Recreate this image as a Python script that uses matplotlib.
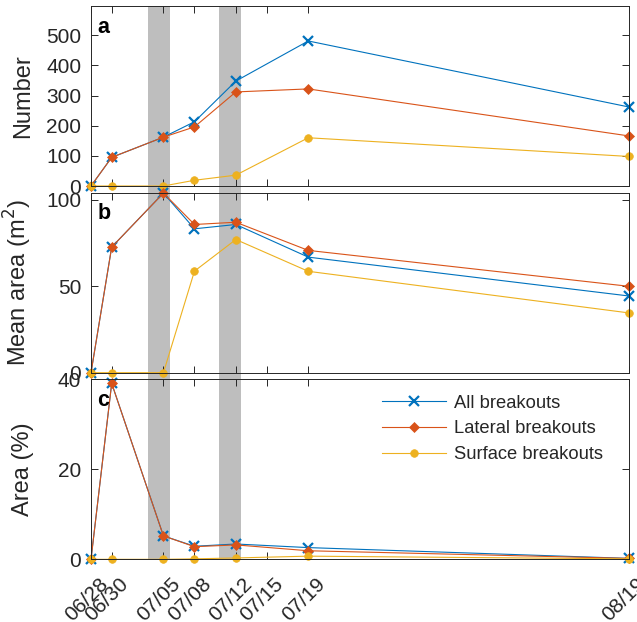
import matplotlib
matplotlib.use("Agg")
import matplotlib.pyplot as plt
import matplotlib.dates as mdates
import matplotlib.transforms as mtransforms
import pandas as pd

plt.rcParams['font.family'] = ['Liberation Sans', 'DejaVu Sans']

dates = ['2019-06-28', '2019-06-30', '2019-07-05', '2019-07-08', '2019-07-12', '2019-07-19', '2019-08-19']
tick_dates = ['2019-06-28', '2019-06-30', '2019-07-05', '2019-07-08', '2019-07-12', '2019-07-15', '2019-07-19', '2019-08-19']
bands = [('2019-07-03 13:00', '2019-07-05 15:00'), ('2019-07-10 09:30', '2019-07-12 12:00')]

number_all = [0, 95, 162, 213, 348, 481, 262]
number_lateral = [0, 95, 162, 196, 312, 322, 166]
number_surface = [0, 0, 0, 19, 36, 160, 98]

mean_all = [0, 72.7, 104, 83.3, 85.8, 66.9, 44.4]
mean_lateral = [0, 72.7, 104, 85.8, 87.1, 70.8, 50.0]
mean_surface = [0, 0, 0, 58.8, 77.1, 58.7, 34.6]

pct_all = [0, 39.1, 5.2, 2.9, 3.4, 2.6, 0.2]
pct_lateral = [0, 39.1, 5.2, 2.8, 3.2, 1.9, 0.2]
pct_surface = [0, 0, 0, 0.1, 0.3, 0.7, 0.1]

series_labels = ['All breakouts', 'Lateral breakouts', 'Surface breakouts']
colors = ['#0072BD', '#D95319', '#EDB120']
markers = ['x', 'D', 'o']
msizes = [7, 5.5, 5.5]

x = pd.to_datetime(dates)
xt = pd.to_datetime(tick_dates)
xlim = (x[0], x[-1])

fig = plt.figure(figsize=(6.37, 6.22), dpi=100)
W, H = 637, 622
left, right = 91, 629
panels_px = [(6, 186), (192.7, 372.7), (379.3, 559.3)]

def fpos(top, bot):
    return [left / W, 1 - bot / H, (right - left) / W, (bot - top) / H]

# background axes for shaded bands spanning all panels
bg = fig.add_axes(fpos(panels_px[0][0], panels_px[2][1]), zorder=0)
bg.set_xlim(xlim)
for s, e in bands:
    bg.axvspan(pd.Timestamp(s), pd.Timestamp(e), color='#bebebe', lw=0)
bg.axis('off')

axc = '#262626'
data = [
    (number_all, number_lateral, number_surface),
    (mean_all, mean_lateral, mean_surface),
    (pct_all, pct_lateral, pct_surface),
]
ylabels = ['Number', 'Mean area (m$^2$)', 'Area (%)']
ylims = [(0, 597), (0, 104.2), (0, 40)]
yticks = [[0, 100, 200, 300, 400, 500], [0, 50, 100], [0, 20, 40]]
letters = ['a', 'b', 'c']

axes = []
for i, (top, bot) in enumerate(panels_px):
    ax = fig.add_axes(fpos(top, bot), zorder=1 + i)
    ax.set_facecolor('none')
    for vals, c, m, ms, lab in zip(data[i], colors, markers, msizes, series_labels):
        ax.plot(x, vals, color=c, lw=0.8, marker=m, ms=ms,
                mew=1.6 if m == 'x' else 0.5, mfc=c, mec=c,
                clip_on=False, label=lab)
    ax.set_xlim(xlim)
    ax.set_ylim(ylims[i])
    ax.set_yticks(yticks[i])
    ax.set_xticks(xt)
    ax.tick_params(direction='in', top=True, right=True, length=5, width=0.7,
                   colors=axc, labelsize=15, pad=7)
    for sp in ax.spines.values():
        sp.set_color(axc)
        sp.set_linewidth(0.7)
    ax.set_ylabel(ylabels[i], fontsize=17, color=axc)
    ax.text(0.012, 0.94, letters[i], transform=ax.transAxes, fontsize=15.5,
            fontweight='bold', va='top', ha='left', color='black')
    if i < 2:
        ax.set_xticklabels([])
    else:
        ax.xaxis.set_major_formatter(mdates.DateFormatter('%m/%d'))
        ax.tick_params(axis='x', pad=5)
        offset = mtransforms.ScaledTranslation(7 / 100, -8 / 100, fig.dpi_scale_trans)
        for t in ax.get_xticklabels():
            t.set_rotation(45)
            t.set_ha('right')
            t.set_va('top')
            t.set_rotation_mode('anchor')
            t.set_transform(t.get_transform() + offset)
    axes.append(ax)

for ax in axes:
    ax.yaxis.set_label_coords(-0.106, 0.5)

leg = axes[2].legend(loc='upper left', bbox_to_anchor=(0.541, 0.915),
                     frameon=False, fontsize=13.2, handlelength=3.5,
                     handletextpad=0.45, labelspacing=0.48, borderpad=0,
                     borderaxespad=0)
for t in leg.get_texts():
    t.set_color(axc)

fig.savefig('out.png', dpi=100)
